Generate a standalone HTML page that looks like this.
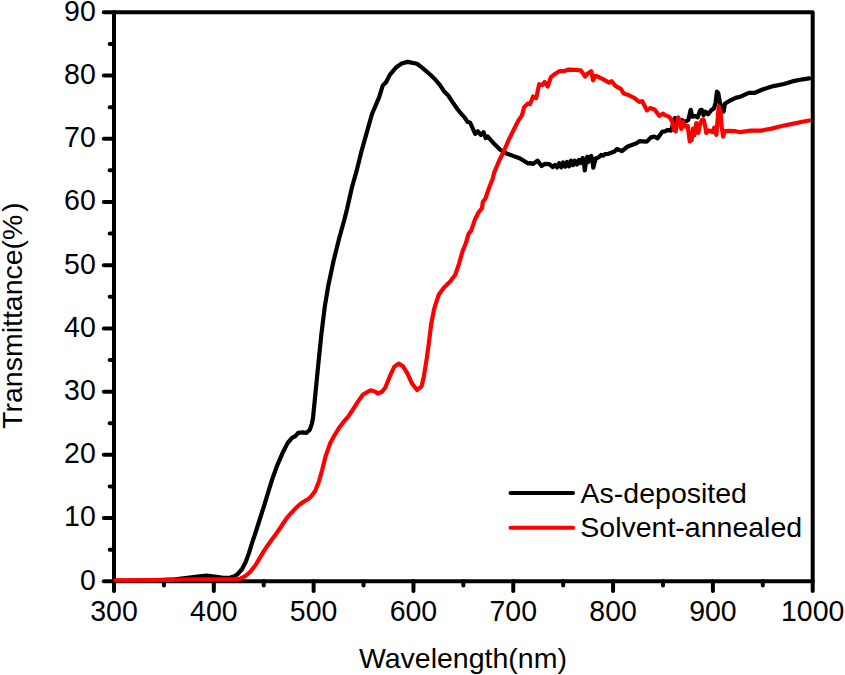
<!DOCTYPE html>
<html><head><meta charset="utf-8"><style>
html,body{margin:0;padding:0;background:#fff;}
svg{display:block;}
text{font-family:"Liberation Sans",sans-serif;font-size:28.5px;fill:#000;}
</style></head><body>
<svg width="845" height="675" viewBox="0 0 845 675">
<rect width="845" height="675" fill="#fff"/>
<g stroke="#000" stroke-width="4.0" stroke-linecap="round" stroke-linejoin="round" fill="none">
<line x1="103.8" y1="581.30" x2="114.0" y2="581.30"/>
<line x1="109.7" y1="549.69" x2="114.0" y2="549.69"/>
<line x1="103.8" y1="518.08" x2="114.0" y2="518.08"/>
<line x1="109.7" y1="486.47" x2="114.0" y2="486.47"/>
<line x1="103.8" y1="454.86" x2="114.0" y2="454.86"/>
<line x1="109.7" y1="423.24" x2="114.0" y2="423.24"/>
<line x1="103.8" y1="391.63" x2="114.0" y2="391.63"/>
<line x1="109.7" y1="360.02" x2="114.0" y2="360.02"/>
<line x1="103.8" y1="328.41" x2="114.0" y2="328.41"/>
<line x1="109.7" y1="296.80" x2="114.0" y2="296.80"/>
<line x1="103.8" y1="265.19" x2="114.0" y2="265.19"/>
<line x1="109.7" y1="233.58" x2="114.0" y2="233.58"/>
<line x1="103.8" y1="201.97" x2="114.0" y2="201.97"/>
<line x1="109.7" y1="170.36" x2="114.0" y2="170.36"/>
<line x1="103.8" y1="138.74" x2="114.0" y2="138.74"/>
<line x1="109.7" y1="107.13" x2="114.0" y2="107.13"/>
<line x1="103.8" y1="75.52" x2="114.0" y2="75.52"/>
<line x1="109.7" y1="43.91" x2="114.0" y2="43.91"/>
<line x1="103.8" y1="12.30" x2="114.0" y2="12.30"/>
<line x1="114.00" y1="581.3" x2="114.00" y2="591.1"/>
<line x1="163.91" y1="581.3" x2="163.91" y2="585.6"/>
<line x1="213.81" y1="581.3" x2="213.81" y2="591.1"/>
<line x1="263.72" y1="581.3" x2="263.72" y2="585.6"/>
<line x1="313.63" y1="581.3" x2="313.63" y2="591.1"/>
<line x1="363.54" y1="581.3" x2="363.54" y2="585.6"/>
<line x1="413.44" y1="581.3" x2="413.44" y2="591.1"/>
<line x1="463.35" y1="581.3" x2="463.35" y2="585.6"/>
<line x1="513.26" y1="581.3" x2="513.26" y2="591.1"/>
<line x1="563.16" y1="581.3" x2="563.16" y2="585.6"/>
<line x1="613.07" y1="581.3" x2="613.07" y2="591.1"/>
<line x1="662.98" y1="581.3" x2="662.98" y2="585.6"/>
<line x1="712.89" y1="581.3" x2="712.89" y2="591.1"/>
<line x1="762.79" y1="581.3" x2="762.79" y2="585.6"/>
<line x1="812.70" y1="581.3" x2="812.70" y2="591.1"/>
<rect x="114.0" y="12.3" width="698.7" height="569.0"/>
</g>
<g fill="none" stroke-width="4.2" stroke-linejoin="round" stroke-linecap="round">
<polyline stroke="#000" points="115.5,580.9 150.0,580.5 160.0,580.0 175.0,579.3 185.5,578.0 197.3,576.5 206.8,575.7 216.3,576.9 223.4,577.8 230.5,577.5 234.5,576.2 237.7,574.0 242.1,569.0 245.8,561.7 249.0,552.9 252.1,542.8 255.9,531.5 259.7,519.5 263.6,507.3 268.0,492.9 272.4,478.7 276.9,466.2 282.2,453.8 287.6,443.1 292.0,437.8 295.6,436.0 298.2,432.8 302.7,432.4 306.6,432.8 309.8,429.8 311.9,423.6 313.0,418.0 314.9,398.8 317.7,370.4 321.3,334.9 324.8,306.5 328.4,285.2 333.7,260.3 339.0,239.0 344.4,219.5 347.1,208.8 351.9,187.5 356.6,170.9 361.3,151.9 367.3,130.6 372.0,114.0 375.6,105.7 379.1,97.4 382.7,85.6 386.2,82.0 389.8,74.9 395.7,67.8 401.6,63.5 407.6,61.9 417.0,63.8 421.8,67.4 430.1,74.5 434.8,79.0 440.0,85.2 444.1,91.4 448.3,95.5 452.4,101.8 456.6,108.0 460.7,113.2 464.9,117.8 467.5,122.0 470.1,122.5 472.6,128.2 475.2,133.9 477.8,131.3 480.9,134.9 483.5,132.3 485.6,138.0 487.7,136.5 490.8,140.1 494.9,144.6 500.0,149.5 504.7,152.7 512.4,155.6 520.1,158.5 527.8,163.3 530.0,163.1 533.3,163.9 537.5,160.6 541.6,166.1 545.0,163.8 549.3,164.2 552.8,167.0 554.9,164.9 557.1,167.4 559.2,163.1 561.3,167.4 563.1,162.4 565.2,166.7 567.0,162.0 569.1,166.3 570.9,160.6 573.0,165.2 574.8,160.6 577.0,164.5 579.1,159.9 580.9,163.1 582.6,158.1 583.7,159.2 584.8,170.5 585.8,163.5 587.3,156.7 588.3,162.0 589.7,157.4 591.2,156.0 592.2,159.2 593.3,167.7 594.7,162.0 595.8,158.5 599.0,157.1 601.1,154.9 603.2,155.7 605.0,154.2 607.9,154.0 614.5,151.5 617.0,149.0 621.9,151.2 627.7,146.5 636.0,143.6 639.3,141.2 646.8,141.6 650.9,137.4 654.3,136.6 657.6,138.3 662.5,131.6 665.0,131.3 667.7,130.0 671.0,130.7 675.0,118.0 677.7,121.3 681.7,120.0 685.0,122.0 688.3,120.0 690.7,109.8 692.3,116.7 695.0,116.0 697.7,117.3 700.3,110.0 701.8,109.9 703.6,115.2 705.3,111.7 708.0,114.3 711.6,109.9 713.8,108.6 715.6,102.8 716.9,91.7 718.2,93.0 720.0,102.8 722.2,111.7 723.6,111.7 724.9,103.7 729.3,101.0 735.6,97.9 740.0,96.8 748.7,92.8 754.9,92.8 763.2,89.2 773.5,86.1 783.9,84.0 792.2,81.4 802.6,79.3 809.2,78.4"/>
<polyline stroke="#f00" points="115.3,580.3 150.0,580.1 200.0,579.3 215.0,579.3 233.9,579.4 240.2,578.7 245.2,576.2 250.3,571.8 255.3,565.5 259.1,559.2 262.8,552.9 266.5,547.0 270.5,541.5 277.8,531.5 282.2,525.0 286.7,518.1 291.1,513.2 295.6,508.3 300.0,504.3 304.4,501.2 308.9,498.6 311.5,496.0 315.1,491.1 318.7,482.2 322.2,469.8 325.8,455.6 330.3,443.0 334.8,434.8 339.3,427.5 344.5,420.9 348.2,416.7 352.6,410.0 357.8,401.9 363.0,394.5 370.4,390.3 374.9,391.5 377.8,393.7 382.3,391.5 385.2,387.8 389.7,376.7 394.1,367.0 398.6,363.6 403.0,366.3 407.5,373.7 411.9,383.4 417.1,390.0 421.6,386.3 423.8,376.7 426.7,358.9 428.5,345.8 431.2,324.0 434.3,308.4 438.9,294.4 443.6,288.1 450.0,281.8 455.3,274.7 458.9,264.1 462.4,251.7 466.0,242.8 468.6,233.9 471.3,230.4 474.9,219.7 478.4,212.6 482.0,208.2 482.8,202.0 485.5,198.4 489.1,187.8 492.6,178.9 494.1,172.9 498.9,161.3 503.7,151.7 508.6,140.1 513.4,130.5 518.2,120.9 522.1,115.1 524.0,107.4 527.8,103.5 530.0,104.2 533.1,96.5 536.2,98.1 539.2,84.2 542.3,85.0 544.6,81.9 547.7,86.5 550.8,77.3 554.6,74.2 559.2,71.2 563.8,71.2 568.5,69.6 574.6,69.9 580.8,70.4 585.1,76.5 587.7,73.5 591.2,71.2 593.1,80.4 595.4,75.8 599.2,77.3 603.8,79.6 609.2,82.7 611.5,81.2 615.4,85.8 620.8,88.8 623.8,93.5 628.5,95.0 634.6,98.1 639.2,101.9 642.3,101.2 646.9,110.4 650.0,108.1 654.6,109.6 659.2,115.8 663.1,113.7 665.0,115.3 667.7,116.0 670.3,118.0 672.3,122.0 673.7,130.0 675.7,131.3 678.3,117.3 680.3,123.3 681.3,128.9 683.0,122.0 685.0,126.7 687.7,126.0 689.7,141.3 691.7,140.0 693.0,128.5 694.3,135.5 696.3,123.1 698.3,132.9 700.3,123.3 702.2,119.7 703.6,119.7 705.3,126.8 706.2,133.0 708.9,130.3 712.4,132.1 714.2,127.7 716.4,134.8 718.7,106.3 720.4,111.7 721.8,127.7 723.1,136.6 724.9,131.2 729.3,130.8 735.6,131.2 740.4,132.2 750.7,130.6 761.1,130.6 771.5,128.6 781.8,126.0 792.2,123.9 802.6,121.8 809.2,120.5"/>
</g>
<g stroke-width="4" stroke-linecap="round">
<line x1="510.5" y1="493.1" x2="573.1" y2="493.1" stroke="#000"/>
<line x1="510.5" y1="527.8" x2="573.1" y2="527.8" stroke="#f00"/>
</g>
<text transform="translate(95.80,589.70) scale(1,1.025)" text-anchor="end">0</text><text transform="translate(95.80,526.48) scale(1,1.025)" text-anchor="end">10</text><text transform="translate(95.80,463.26) scale(1,1.025)" text-anchor="end">20</text><text transform="translate(95.80,400.03) scale(1,1.025)" text-anchor="end">30</text><text transform="translate(95.80,336.81) scale(1,1.025)" text-anchor="end">40</text><text transform="translate(95.80,273.59) scale(1,1.025)" text-anchor="end">50</text><text transform="translate(95.80,210.37) scale(1,1.025)" text-anchor="end">60</text><text transform="translate(95.80,147.14) scale(1,1.025)" text-anchor="end">70</text><text transform="translate(95.80,83.92) scale(1,1.025)" text-anchor="end">80</text><text transform="translate(95.80,20.70) scale(1,1.025)" text-anchor="end">90</text>
<text transform="translate(114.00,620.50) scale(1,1.025)" text-anchor="middle">300</text><text transform="translate(213.81,620.50) scale(1,1.025)" text-anchor="middle">400</text><text transform="translate(313.63,620.50) scale(1,1.025)" text-anchor="middle">500</text><text transform="translate(413.44,620.50) scale(1,1.025)" text-anchor="middle">600</text><text transform="translate(513.26,620.50) scale(1,1.025)" text-anchor="middle">700</text><text transform="translate(613.07,620.50) scale(1,1.025)" text-anchor="middle">800</text><text transform="translate(712.89,620.50) scale(1,1.025)" text-anchor="middle">900</text><text transform="translate(812.70,620.50) scale(1,1.025)" text-anchor="middle">1000</text>
<text transform="translate(580.60,502.80)" font-size="28.2">As-deposited</text>
<text transform="translate(580.30,536.80)" font-size="28.2">Solvent-annealed</text>
<text transform="translate(358.90,667.60)" font-size="28.9">Wavelength(nm)</text>
<text transform="translate(21.80,428.90) rotate(-90)" font-size="28.9">Transmittance(%<tspan dx="2.5">)</tspan></text>
</svg>
</body></html>
